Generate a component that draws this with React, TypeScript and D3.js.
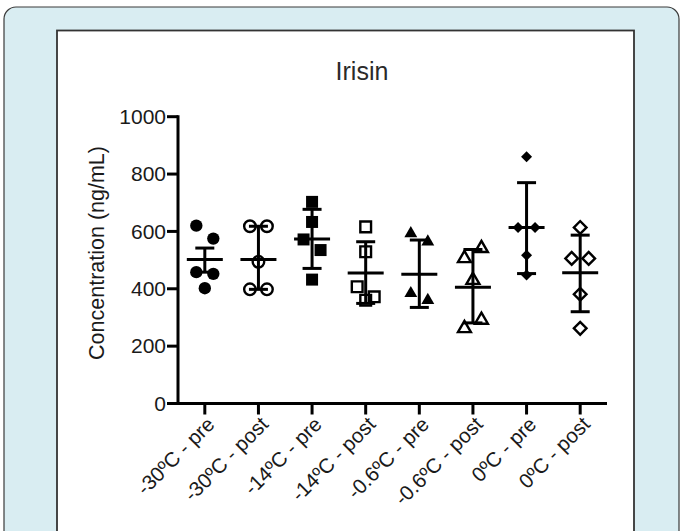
import React from "react";
import * as d3 from "d3";

const categories = [
  "-30ºC - pre",
  "-30ºC - post",
  "-14ºC - pre",
  "-14ºC - post",
  "-0.6ºC - pre",
  "-0.6ºC - post",
  "0ºC - pre",
  "0ºC - post",
];

const g1 = [620, 575, 458, 452, 402];
const g2 = [618, 618, 494, 398, 398];
const g3 = [703, 633, 572, 535, 432];
const g4 = [616, 529, 407, 372, 360];
const g5 = [593, 564, 384, 360];
const g6 = [506, 541, 430, 262, 291];
const g7 = [860, 614, 614, 517, 448];
const g8 = [614, 506, 506, 381, 262];
const groups = [g1, g2, g3, g4, g5, g6, g7, g8];

const means = [502, 502, 574, 455, 451, 405, 614, 456];
const upper = [542, 618, 677, 564, 570, 537, 770, 587];
const lower = [458, 398, 471, 349, 335, 281, 453, 320];

const yTicks = [0, 200, 400, 600, 800, 1000];

const markerKinds = [
  { shape: "circle", filled: true },
  { shape: "circle", filled: false },
  { shape: "square", filled: true },
  { shape: "square", filled: false },
  { shape: "triangle", filled: true },
  { shape: "triangle", filled: false },
  { shape: "diamond", filled: true },
  { shape: "diamond", filled: false },
];

const W = 683;
const H = 531;
const font = "Liberation Sans, Arial, Helvetica, sans-serif";

function markerPath(shape: string, filled: boolean): { d: string; rot: number } {
  if (shape === "circle") {
    return { d: d3.symbol().type(d3.symbolCircle).size(filled ? 120 : 105)() as string, rot: 0 };
  }
  if (shape === "square") {
    return { d: d3.symbol().type(d3.symbolSquare).size(filled ? 144 : 115)() as string, rot: 0 };
  }
  if (shape === "triangle") {
    return { d: d3.symbol().type(d3.symbolTriangle).size(72)() as string, rot: 0 };
  }
  return { d: d3.symbol().type(d3.symbolSquare).size(filled ? 60 : 80)() as string, rot: 45 };
}

function swarmOffsets(vals: number[], y: d3.ScaleLinear<number, number>, spread: number) {
  const idx = vals.map((v, i) => i).sort((a, b) => vals[b] - vals[a]);
  const clusters: number[][] = [];
  idx.forEach((i, k) => {
    if (k > 0) {
      const prev = idx[k - 1];
      if (Math.abs(y(vals[i]) - y(vals[prev])) < 14) {
        clusters[clusters.length - 1].push(i);
        return;
      }
    }
    clusters.push([i]);
  });
  const off = vals.map(() => 0);
  const pattern: Record<number, number[]> = { 1: [0], 2: [-1, 1], 3: [-1, 1, 0] };
  clusters.forEach((c) => {
    const members = [...c].sort((a, b) => a - b);
    const p = pattern[members.length] || members.map((_, j) => j - (members.length - 1) / 2);
    members.forEach((m, j) => (off[m] = p[j] * spread));
  });
  return off;
}

export default function App() {
  const x = d3.scaleBand<string>().domain(categories).range([178, 607]).padding(0);
  const y = d3.scaleLinear().domain([0, 1000]).range([403.5, 116.7]);
  const bw = x.bandwidth();
  const axisX = 178;
  const axisY = y(0);

  return (
    <svg
      width={W}
      height={H}
      viewBox={`0 0 ${W} ${H}`}
      style={{ position: "absolute", left: 0, top: 0, background: "#ffffff" }}
    >
      <rect x={4} y={7} width={675} height={560} rx={12} ry={12} fill="#d9edf2" stroke="#3a3a3a" strokeWidth={1.2} />
      <rect x={57} y={30.5} width={577} height={540} fill="#ffffff" stroke="#333333" strokeWidth={1.8} />

      <text x={362} y={80} textAnchor="middle" fontFamily={font} fontSize={25} fill="#2a2a2a">
        Irisin
      </text>

      <text
        transform={`translate(104,253) rotate(-90)`}
        textAnchor="middle"
        fontFamily={font}
        fontSize={21.5}
        fill="#1a1a1a"
      >
        Concentration (ng/mL)
      </text>

      {/* y axis */}
      <line x1={axisX} x2={axisX} y1={y(1000) - 1.5} y2={axisY + 1.5} stroke="#000" strokeWidth={3} />
      {yTicks.map((t) => (
        <g key={t}>
          <line x1={axisX - 11} x2={axisX} y1={y(t)} y2={y(t)} stroke="#000" strokeWidth={3} />
          <text
            x={axisX - 12}
            y={y(t)}
            dy="0.35em"
            textAnchor="end"
            fontFamily={font}
            fontSize={21}
            fill="#1a1a1a"
          >
            {t}
          </text>
        </g>
      ))}

      {/* x axis */}
      <line x1={axisX - 1.5} x2={607} y1={axisY} y2={axisY} stroke="#000" strokeWidth={3} />
      {categories.map((c) => {
        const cx = (x(c) as number) + bw / 2;
        return (
          <g key={c}>
            <line x1={cx} x2={cx} y1={axisY} y2={axisY + 11} stroke="#000" strokeWidth={3} />
            <text
              transform={`translate(${cx + 6},${axisY + 17}) rotate(-45)`}
              textAnchor="end"
              dy="0.35em"
              fontFamily={font}
              fontSize={20.5}
              fill="#1a1a1a"
            >
              {c}
            </text>
          </g>
        );
      })}

      {/* error bars and means */}
      {categories.map((c, i) => {
        const cx = (x(c) as number) + bw / 2;
        return (
          <g key={"e" + c} stroke="#000" strokeWidth={3}>
            <line x1={cx} x2={cx} y1={y(upper[i])} y2={y(lower[i])} />
            <line x1={cx - 9.5} x2={cx + 9.5} y1={y(upper[i])} y2={y(upper[i])} />
            <line x1={cx - 9.5} x2={cx + 9.5} y1={y(lower[i])} y2={y(lower[i])} />
            <line x1={cx - 18} x2={cx + 18} y1={y(means[i])} y2={y(means[i])} />
          </g>
        );
      })}

      {/* points */}
      {categories.map((c, i) => {
        const cx = (x(c) as number) + bw / 2;
        const vals = groups[i];
        const offs = swarmOffsets(vals, y, 8.5);
        const mk = markerKinds[i];
        const { d, rot } = markerPath(mk.shape, mk.filled);
        return (
          <g key={"p" + c}>
            {vals.map((v, j) => (
              <path
                key={j}
                d={d}
                transform={`translate(${cx + offs[j]},${y(v)}) rotate(${rot})`}
                fill={mk.filled ? "#000" : "none"}
                stroke="#000"
                strokeWidth={mk.filled ? 0 : 2.4}
              />
            ))}
          </g>
        );
      })}
    </svg>
  );
}
